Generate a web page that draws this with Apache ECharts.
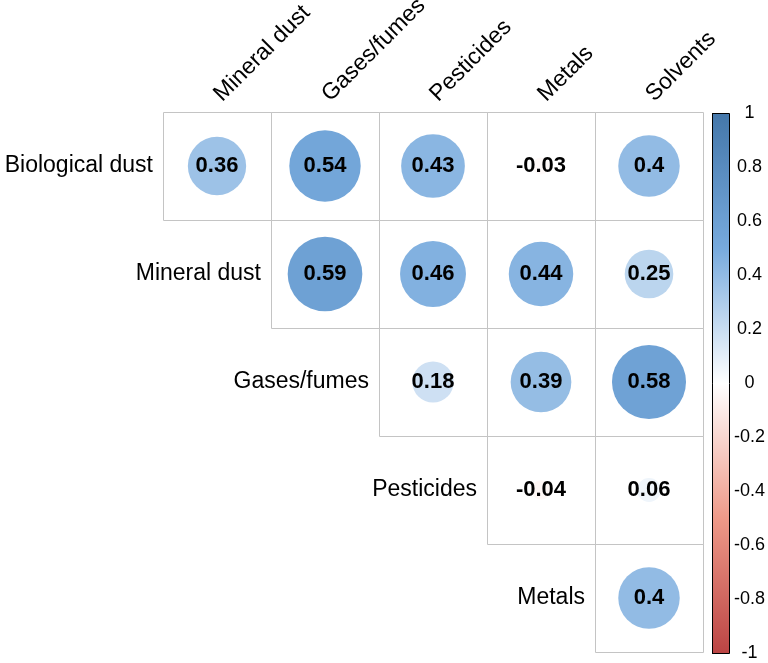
<!DOCTYPE html>
<html>
<head>
<meta charset="utf-8">
<script src="https://cdn.jsdelivr.net/npm/echarts@6/dist/echarts.min.js"></script>
<style>
html,body{margin:0;padding:0;background:#fff;}
#main{width:768px;height:663px;}
</style>
</head>
<body>
<div id="main"></div>
<script>
var rowLabels = ['Biological dust', 'Mineral dust', 'Gases/fumes', 'Pesticides', 'Metals'];
var colLabels = ['Mineral dust', 'Gases/fumes', 'Pesticides', 'Metals', 'Solvents'];
var rowBiological = [0.36, 0.54, 0.43, -0.03, 0.4];
var rowMineral = [0.59, 0.46, 0.44, 0.25];
var rowGases = [0.18, 0.39, 0.58];
var rowPesticides = [-0.04, 0.06];
var rowMetals = [0.4];
var rowValues = [rowBiological, rowMineral, rowGases, rowPesticides, rowMetals];
var colorStops = ['#BB4444', '#EE9988', '#FFFFFF', '#77AADD', '#4477AA'];
var barTicks = { min: -1, max: 1, interval: 0.2 };

var FONT = "'Liberation Sans', Arial, sans-serif";
var GRID_W = 540;
var cellPx = GRID_W / colLabels.length;

var points = [];
var cells = [];
rowValues.forEach(function (vals, i) {
  vals.forEach(function (v, k) {
    var j = i + k;
    points.push([j, i, v]);
    cells.push([j, i]);
  });
});
var rowLabelData = rowLabels.map(function (_, i) { return [i, i]; });
var colLabelData = colLabels.map(function (_, j) { return [j, 0]; });

var chart = echarts.init(document.getElementById('main'));
chart.setOption({
  backgroundColor: '#fff',
  animation: false,
  grid: [
    { left: 163, top: 112, width: GRID_W, height: GRID_W },
    { left: 712, top: 113, width: 18, height: 540 }
  ],
  xAxis: [
    { gridIndex: 0, type: 'category', data: colLabels, show: false },
    { gridIndex: 1, type: 'value', min: 0, max: 1, show: false }
  ],
  yAxis: [
    { gridIndex: 0, type: 'category', data: rowLabels, inverse: true, show: false },
    {
      gridIndex: 1, type: 'value', min: barTicks.min, max: barTicks.max, interval: barTicks.interval,
      position: 'right',
      axisLine: { show: false },
      axisTick: { show: true, length: 4, lineStyle: { color: '#000', width: 1 } },
      splitLine: { show: false },
      axisLabel: { fontSize: 18, color: '#000', fontFamily: FONT, margin: 20, align: 'center',
        formatter: function (v) { return String(Math.round(v * 10) / 10); } }
    }
  ],
  visualMap: {
    show: false, type: 'continuous', min: -1, max: 1, dimension: 2, seriesIndex: 1,
    inRange: { color: colorStops }
  },
  series: [
    {
      type: 'custom', xAxisIndex: 0, yAxisIndex: 0, data: cells, encode: { x: 0, y: 1 },
      renderItem: function (params, api) {
        var p = api.coord([api.value(0), api.value(1)]);
        var s = api.size([1, 1]);
        return {
          type: 'rect',
          shape: { x: Math.round(p[0] - s[0] / 2) + 0.5, y: Math.round(p[1] - s[1] / 2) + 0.5, width: s[0], height: s[1] },
          style: { fill: 'none', stroke: '#C4C4C4', lineWidth: 1 }
        };
      },
      z: 1
    },
    {
      type: 'scatter', xAxisIndex: 0, yAxisIndex: 0, data: points,
      symbol: 'circle',
      symbolSize: function (val) { return 0.9 * cellPx * Math.sqrt(Math.abs(val[2])); },
      itemStyle: { opacity: 1 },
      label: {
        show: true, position: 'inside', color: '#000', fontSize: 22, fontWeight: 'bold', fontFamily: FONT,
        textBorderWidth: 0,
        formatter: function (p) { return String(p.value[2]); }
      },
      emphasis: { disabled: true },
      z: 2
    },
    {
      type: 'custom', xAxisIndex: 0, yAxisIndex: 0, data: rowLabelData, encode: { x: 0, y: 1 },
      renderItem: function (params, api) {
        var i = api.value(1);
        var p = api.coord([api.value(0), i]);
        var s = api.size([1, 1]);
        return {
          type: 'text',
          style: {
            x: p[0] - s[0] / 2 - 10, y: p[1],
            text: rowLabels[i], fill: '#000', font: '23px ' + FONT,
            align: 'right', verticalAlign: 'middle'
          }
        };
      },
      z: 3
    },
    {
      type: 'custom', xAxisIndex: 0, yAxisIndex: 0, data: colLabelData, encode: { x: 0, y: 1 },
      renderItem: function (params, api) {
        var j = api.value(0);
        var p = api.coord([j, 0]);
        var s = api.size([1, 1]);
        return {
          type: 'text',
          x: p[0] + 9, y: p[1] - s[1] / 2 - 6,
          rotation: Math.PI / 4,
          style: {
            x: 0, y: 0,
            text: colLabels[j], fill: '#000', font: '23px ' + FONT,
            align: 'left', verticalAlign: 'bottom'
          }
        };
      },
      z: 3
    },
    {
      type: 'custom', xAxisIndex: 1, yAxisIndex: 1, data: [[0, 1]], encode: { x: 0, y: 1 },
      renderItem: function (params, api) {
        var a = api.coord([0, barTicks.max]);
        var b = api.coord([1, barTicks.min]);
        return {
          type: 'rect',
          shape: { x: Math.round(a[0]) + 0.5, y: Math.round(a[1]) + 0.5, width: Math.round(b[0] - a[0]), height: Math.round(b[1] - a[1]) },
          style: {
            fill: new echarts.graphic.LinearGradient(0, 0, 0, 1, colorStops.slice().reverse().map(function (c, k, arr) {
              return { offset: k / (arr.length - 1), color: c };
            })),
            stroke: '#000', lineWidth: 1
          }
        };
      }
    }
  ]
});
</script>
</body>
</html>
